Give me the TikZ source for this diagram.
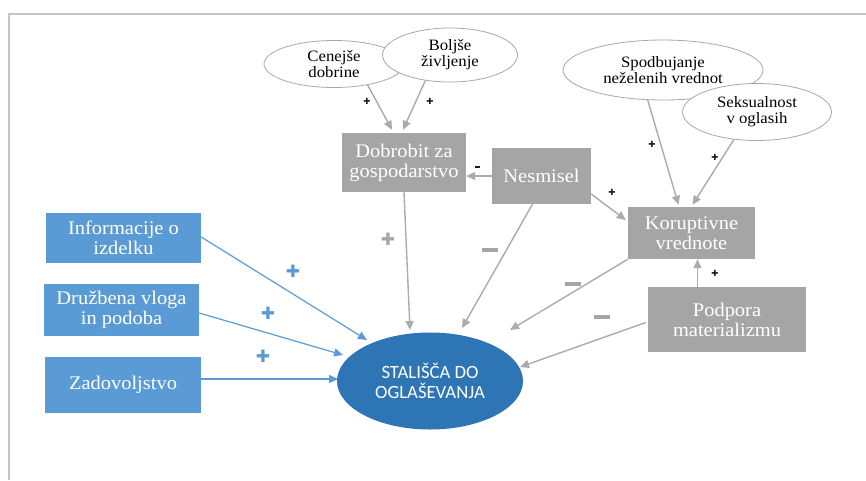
\documentclass[tikz,border=0pt]{standalone}
\usepackage{fontspec}
\setmainfont{Liberation Serif}
\newfontfamily\boxfont[FakeStretch=1.06]{Liberation Serif}
\newfontfamily\calfont{Carlito}
\newfontfamily\signfont{DejaVu Sans}
\usetikzlibrary{shapes.geometric,arrows.meta,calc}

\definecolor{boxgray}{HTML}{A5A5A5}
\definecolor{linegray}{HTML}{ABABAB}
\definecolor{framegray}{HTML}{C4C4C4}
\definecolor{boxblue}{HTML}{5B9BD5}
\definecolor{deepblue}{HTML}{2E75B6}
\definecolor{ovalline}{HTML}{A8A8A8}
\definecolor{signblack}{HTML}{1A1A1A}

\tikzset{
  graybox/.style={fill=boxgray, text=white, align=center, inner sep=0pt,
    font=\boxfont\fontsize{19.3}{20}\selectfont},
  bluebox/.style={fill=boxblue, text=white, align=center, inner sep=0pt,
    font=\boxfont\fontsize{19.3}{20}\selectfont},
  oval/.style={ellipse, draw=ovalline, line width=0.8pt, fill=white,
    align=center, inner sep=0pt, font=\boxfont\fontsize{15.8}{16}\selectfont},
  target/.style={ellipse, fill=deepblue, text=white, align=center,
    inner sep=0pt, font=\calfont\fontsize{18.7}{19.5}\selectfont},
  grayarrow/.style={draw=linegray, line width=1.4pt,
    -{Triangle[length=9pt,width=8pt]}},
  bluearrow/.style={draw=boxblue, line width=1.2pt,
    -{Triangle[length=9pt,width=8pt]}},
  smallsign/.style={inner sep=0pt, text=signblack,
    font=\signfont\fontsize{8.5}{8.5}\selectfont},
  bigplus/.style={inner sep=0pt, font=\signfont\fontsize{17}{17}\selectfont},
  minusbar/.style={fill=boxgray, inner sep=0pt, minimum width=16pt, minimum height=4.5pt},
  smallbar/.style={fill=signblack, inner sep=0pt, minimum width=5pt, minimum height=2.5pt},
}

\begin{document}
\begin{tikzpicture}[x=1pt, y=-1pt]
  \useasboundingbox (0,0) rectangle (866,480);

  % page frame
  \draw[framegray, line width=2pt] (8.5,480) -- (8.5,13.5) -- (866,13.5);

  % upper ellipses
  \node[oval, minimum width=140pt, minimum height=47pt] (cen) at (334,64) {Cenejše\\dobrine};
  \node[oval, minimum width=135pt, minimum height=54pt] (bol) at (450,55) {Boljše\\življenje};
  \node[oval, minimum width=200pt, minimum height=60pt] (spo) at (663,70) {Spodbujanje\\neželenih vrednot};
  \node[oval, minimum width=149pt, minimum height=57pt] (sek) at (757,112) {Seksualnost\\v oglasih};

  % gray factors
  \node[graybox, minimum width=124pt, minimum height=59pt] (dob) at (404,162.5) {Dobrobit za\\gospodarstvo};
  \node[graybox, minimum width=99pt, minimum height=56pt] (nes) at (541.5,176) {Nesmisel};
  \node[graybox, minimum width=127pt, minimum height=52pt] (kor) at (691.5,233) {Koruptivne\\vrednote};
  \node[graybox, minimum width=158pt, minimum height=65pt] (pod) at (727,319.5) {Podpora\\materializmu};

  % blue factors
  \node[bluebox, minimum width=155pt, minimum height=50pt] (info) at (123.5,238) {Informacije o\\izdelku};
  \node[bluebox, minimum width=155pt, minimum height=52pt] (druz) at (121.5,310) {Družbena vloga\\in podoba};
  \node[bluebox, minimum width=156pt, minimum height=56pt] (zad) at (123,385) {Zadovoljstvo};

  % central attitude
  \node[target, minimum width=186pt, minimum height=97pt] (sta) at (430,381) {STALIŠČA DO\\OGLAŠEVANJA};

  % arrows into Dobrobit
  \draw[grayarrow] (cen.-32) -- ($(dob.north)+(-12,-3)$);
  \draw[grayarrow] (bol.-134) -- ($(dob.north)+(-1,-3)$);
  \draw[grayarrow] (nes.west) -- (nes.west -| dob.east);

  % arrows into Koruptivne vrednote
  \draw[grayarrow] ($(nes.east)+(0,18)$) -- ($(kor.west)+(-2,-13)$);
  \draw[grayarrow] (spo.-117) -- ($(kor.north)+(-13,-2)$);
  \draw[grayarrow] (sek.-130) -- ($(kor.north)+(1,-2)$);
  \coordinate (kx) at ($(kor.south)+(6,0)$);
  \draw[grayarrow] (kx |- pod.north) -- (kx);

  % arrows into the attitude
  \draw[grayarrow] (dob.south) -- ($(sta)+(-20,-51)$);
  \draw[grayarrow] ($(nes.south)+(-9,0)$) -- ($(sta)+(32,-53)$);
  \draw[grayarrow] (kor.south west) -- ($(sta)+(80,-51)$);
  \draw[grayarrow] ($(pod.west)+(-2,3)$) -- ($(sta)+(90,-14)$);
  \draw[bluearrow] ($(info.east)+(0,-1)$) -- ($(sta)+(-63,-41)$);
  \draw[bluearrow] ($(druz.east)+(0,3)$) -- ($(sta)+(-87,-26)$);
  \draw[bluearrow] ($(zad.east)+(0,-6)$) -- ($(sta)+(-92,-2)$);

  % signs
  \node[smallsign] (s1) at (367,101) {✚};
  \node[smallsign] (s2) at (430,101) {✚};
  \node[smallbar] (s3) at (477,167) {};
  \node[smallsign] (s4) at (612,192) {✚};
  \node[smallsign] (s5) at (652,144) {✚};
  \node[smallsign] (s6) at (715,157) {✚};
  \node[smallsign] (s7) at (715,273) {✚};
  \node[bigplus, text=boxgray] (p1) at (388,239) {✚};
  \node[bigplus, text=boxblue] (p2) at (293,271) {✚};
  \node[bigplus, text=boxblue] (p3) at (268,313) {✚};
  \node[bigplus, text=boxblue] (p4) at (263,356) {✚};
  \node[minusbar] (m1) at (490,250) {};
  \node[minusbar] (m2) at (573,284) {};
  \node[minusbar] (m3) at (602,317) {};
\end{tikzpicture}
\end{document}
